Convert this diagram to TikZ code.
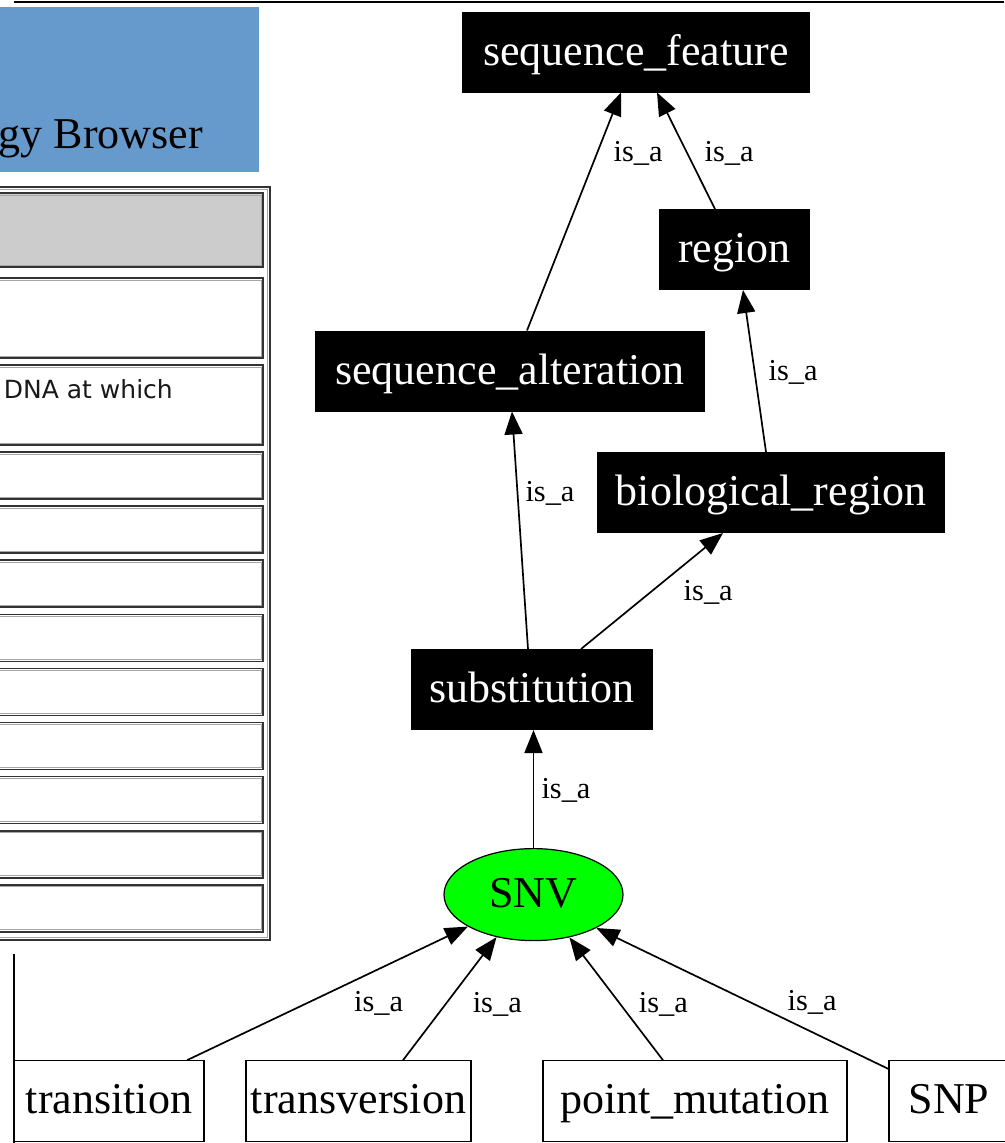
\documentclass[tikz,border=0pt]{standalone}
\usepackage{fontspec}
\setmainfont{Liberation Serif}
\newfontfamily\uifont{DejaVu Sans}
\usetikzlibrary{positioning,arrows.meta,shapes.geometric}
\definecolor{brandblue}{HTML}{6699CC}
\definecolor{snvgreen}{HTML}{00FF00}
\definecolor{headgray}{HTML}{CCCCCC}
\newcommand{\termfont}{\fontsize{44}{50}\selectfont}
\newcommand{\lblfont}{\fontsize{30.4}{34}\selectfont}

\begin{document}
\begin{tikzpicture}[x=1pt,y=-1pt,
    term/.style={rectangle,fill=black,text=white,inner sep=0pt,outer sep=0pt,minimum height=81pt,font=\termfont,text height=29pt,text depth=3pt},
    leaf/.style={rectangle,draw,line width=1.3pt,inner sep=0pt,outer sep=0pt,minimum height=81pt,font=\termfont,text height=29pt,text depth=3pt},
    isa/.style={-{Triangle[length=23pt,width=18pt]},line width=1.7pt},
    lbl/.style={inner sep=0pt,font=\lblfont},
    cell/.style={draw=black!80,line width=1.6pt},
    cellin/.style={draw=black!35,line width=0.8pt}]
    \useasboundingbox (0,0) rectangle (1004,1143);

    % browser frame on the left
    \draw[line width=2.4pt] (14,2) -- (1004,2);
    \fill[brandblue] (0,7) rectangle (259,172);
    \node[anchor=base east,inner sep=0pt,font=\termfont] (brand) at (203,148) {gy Browser};
    \draw[cell] (-10,187) rectangle (270,940);
    \draw[cellin] (-10,189.5) rectangle (267.5,937.5);
    \draw[cell,fill=headgray] (-10,193) rectangle (263,267);
    \draw[cellin] (-10,195) rectangle (261,265);
    \draw[cell] (-10,278) rectangle (263,358);
    \draw[cellin] (-10,280) rectangle (261,356);
    \draw[cell] (-10,365) rectangle (263,445);
    \draw[cellin] (-10,367) rectangle (261,443);
    \node[anchor=base east,inner sep=0pt,text=black!90,font=\uifont\fontsize{25}{30}\selectfont] (defn) at (173,398) {DNA at which};
    \foreach \k in {0,...,8}{
        \pgfmathsetmacro\rt{452+54.1*\k}
        \draw[cell] (-10,\rt) rectangle (263,\rt+47);
        \draw[cellin] (-10,\rt+2) rectangle (261,\rt+45);
    }
    \draw[line width=1.5pt] (14,954) -- (14,1143);

    % ontology graph
    \node[term,minimum width=348pt] (sf) at (636,52) {sequence\_feature};
    \node[term,minimum width=151pt,below=116.5pt of sf,xshift=98.5pt] (region) {region};
    \node[term,minimum width=390pt,below=40.5pt of region,xshift=-224.5pt] (salt) {sequence\_alteration};
    \node[term,minimum width=348pt,below=40.5pt of salt,xshift=261pt] (bioreg) {biological\_region};
    \node[term,minimum width=242pt,below=116pt of bioreg,xshift=-239pt] (subst) {substitution};
    \node[ellipse,draw,fill=snvgreen,line width=1.2pt,inner sep=0pt,minimum width=179pt,minimum height=92pt,font=\termfont,text height=29pt,text depth=4pt,below=118pt of subst,xshift=1.5pt] (snv) {SNV};
    \node[leaf,minimum width=304pt,below=119pt of snv,xshift=161.5pt] (pointmut) {point\_mutation};
    \node[leaf,minimum width=225pt,left=72pt of pointmut] (transv) {transversion};
    \node[leaf,minimum width=190pt,left=42pt of transv] (transit) {transition};
    \node[leaf,minimum width=120pt,right=42pt of pointmut] (snp) {SNP};

    \draw[isa] ([xshift=17pt]salt.north) -- node[lbl,pos=.746,xshift=41pt]{is\_a} ([xshift=-15pt]sf.south);
    \draw[isa] ([xshift=-19.5pt]region.north) -- node[lbl,pos=.48,xshift=42pt]{is\_a} ([xshift=21pt]sf.south);
    \draw[isa] ([xshift=-5pt]bioreg.north) -- node[lbl,pos=.494,xshift=38.5pt]{is\_a} ([xshift=8.5pt]region.south);
    \draw[isa] ([xshift=-4pt]subst.north) -- node[lbl,pos=.657,xshift=32.5pt]{is\_a} ([xshift=2pt]salt.south);
    \draw[isa] ([xshift=49pt]subst.north) -- node[lbl,pos=.491,xshift=57.5pt]{is\_a} ([xshift=-48pt]bioreg.south);
    \draw[isa] (snv.north) -- node[lbl,pos=.49,xshift=32.5pt]{is\_a} ([xshift=1.5pt]subst.south);
    \draw[isa] ([xshift=78pt]transit.north) -- node[lbl,pos=.427,xshift=71.7pt]{is\_a} (snv.206);
    \draw[isa] ([xshift=44.5pt]transv.north) -- node[lbl,pos=.455,xshift=51.7pt]{is\_a} (snv.229);
    \draw[isa] ([xshift=-32pt]pointmut.north) -- node[lbl,pos=.455,xshift=43pt]{is\_a} (snv.310);
    \draw[isa] ([yshift=-9pt]snp.north west) -- node[lbl,pos=.471,xshift=61pt]{is\_a} (snv.332);
\end{tikzpicture}
\end{document}
